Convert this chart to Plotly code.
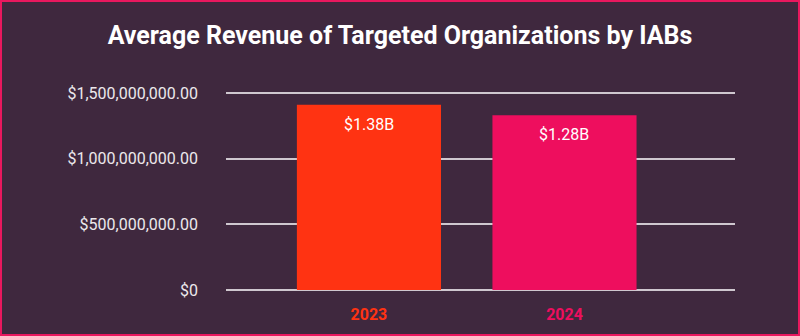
import plotly.graph_objects as go

years = ["2023", "2024"]
revenue = [1.41e9, 1.33e9]
bar_labels = ["$1.38B", "$1.28B"]
bar_colors = ["#ff3312", "#ee0e5e"]
y_tickvals = [0, 5e8, 1e9, 1.5e9]
y_ticktext = ["$0", "$500,000,000.00", "$1,000,000,000.00", "$1,500,000,000.00"]

W, H = 800, 336
ml, mr, mt, mb = 226, 65, 92, 45
pw, ph = W - ml - mr, H - mt - mb

fig = go.Figure()
fig.add_trace(go.Bar(
    x=[0, 1], y=revenue, marker=dict(color=bar_colors, line=dict(width=0)),
    width=0.737, hoverinfo="skip",
))

for i, (v, t) in enumerate(zip(revenue, bar_labels)):
    fig.add_annotation(x=i, y=v, text=t, showarrow=False, yanchor="top", yshift=-8,
                       font=dict(family="Roboto", size=16, color="white"))

fig.update_layout(
    width=W, height=H,
    margin=dict(l=ml, r=mr, t=mt, b=mb),
    paper_bgcolor="#3f283e", plot_bgcolor="#3f283e",
    title=dict(text="<b>Average Revenue of Targeted Organizations by IABs</b>",
               x=0.5, xanchor="center", y=1 - 35 / H, yanchor="middle",
               font=dict(family="Roboto", size=25, color="white")),
    showlegend=False,
    xaxis=dict(range=[-0.731, 1.872], tickvals=[0, 1],
               ticktext=[f"<span style='color:{c}'><b>{y}</b></span>" for y, c in zip(years, bar_colors)],
               showgrid=False, zeroline=False, showline=False, ticks="",
               tickfont=dict(family="Roboto", size=16), ticklabelstandoff=12),
    yaxis=dict(range=[-0.008e9, 1.508e9], tickvals=y_tickvals, ticktext=y_ticktext,
               showgrid=True, gridcolor="#cfc8cf", gridwidth=1.5, zeroline=False,
               showline=False, ticks="", ticklabelstandoff=27,
               tickfont=dict(family="Roboto", size=16, color="#ece8ec")),
    shapes=[dict(type="rect", xref="paper", yref="paper",
                 x0=(-ml + 1) / pw, x1=(W - ml - 1) / pw,
                 y0=(-mb + 1) / ph, y1=(H - mb - 1) / ph,
                 line=dict(color="#e8185e", width=2), fillcolor="rgba(0,0,0,0)", layer="above")],
)

fig.write_html("out.html")
